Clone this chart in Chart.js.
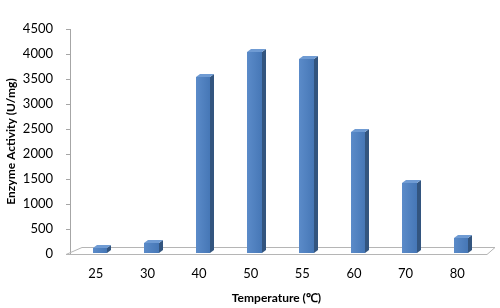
<!DOCTYPE html>
<html><head><meta charset="utf-8">
<script src="https://cdn.jsdelivr.net/npm/chart.js@4/dist/chart.umd.min.js"></script>
<style>html,body{margin:0;padding:0;background:#fff}#wrap{width:500px;height:308px}</style>
</head><body><div id="wrap"><canvas id="c"></canvas></div>
<script>
const categories = ['25','30','40','50','55','60','70','80'];
const activity = [120, 220, 3540, 4050, 3900, 2440, 1420, 330];
const yTicks = [0,500,1000,1500,2000,2500,3000,3500,4000,4500];
const xTitle = 'Temperature (℃)';
const yTitle = 'Enzyme Activity (U/mg)';

const DX = 4, DY = 3, SHIFT = 4;
const bar3d = {
  id: 'bar3d',
  beforeDatasetsDraw(chart) {
    const {ctx, chartArea: a} = chart;
    const yb = chart.scales.y.getPixelForValue(0);
    ctx.save();
    ctx.strokeStyle = '#b5b5b5';
    ctx.lineWidth = 1;
    ctx.beginPath();
    ctx.moveTo(a.left - 4, yb + 0.5);
    ctx.lineTo(a.right + 4, yb + 0.5);
    ctx.lineTo(a.right + 12, yb - 6.5);
    ctx.lineTo(a.left + 12, yb - 6.5);
    ctx.closePath();
    ctx.stroke();
    ctx.restore();
  },
  afterDatasetsDraw(chart) {
    const {ctx} = chart;
    const meta = chart.getDatasetMeta(0);
    meta.data.forEach(el => {
      const {x, y, base, width} = el.getProps(['x','y','base','width'], true);
      const l = Math.round(x - width/2 + SHIFT), r = Math.round(x + width/2 + SHIFT);
      const t = Math.round(y), b = Math.round(base) - 1;
      ctx.fillStyle = '#33557f';
      ctx.beginPath();
      ctx.moveTo(r, b); ctx.lineTo(r + DX, b - DY); ctx.lineTo(r + DX, t - DY); ctx.lineTo(r, t);
      ctx.closePath(); ctx.fill();
      ctx.fillStyle = '#6f9bd3';
      ctx.beginPath();
      ctx.moveTo(l, t); ctx.lineTo(l + DX, t - DY); ctx.lineTo(r + DX, t - DY); ctx.lineTo(r, t);
      ctx.closePath(); ctx.fill();
      const g = ctx.createLinearGradient(l, 0, r, 0);
      g.addColorStop(0, '#5b8bc9'); g.addColorStop(1, '#4677b6');
      ctx.fillStyle = g;
      ctx.fillRect(l, t, r - l, b - t);
    });
  }
};

new Chart(document.getElementById('c'), {
  type: 'bar',
  data: { labels: categories, datasets: [{ data: activity, backgroundColor: 'rgba(0,0,0,0)', borderWidth: 0, barPercentage: 0.56, categoryPercentage: 0.5 }] },
  options: {
    responsive: true, maintainAspectRatio: false, animation: false,
    devicePixelRatio: 1,
    layout: { padding: { top: 29, right: 17, left: 0, bottom: 0 } },
    plugins: { legend: { display: false }, tooltip: { enabled: false } },
    scales: {
      x: {
        afterFit: s => { s.height = 54; },
        grid: { display: false },
        border: { display: false },
        ticks: { padding: 4, color: '#000', font: { family: 'Lato', size: 13 } },
        title: { display: true, text: xTitle, color: '#000', padding: { top: 0, bottom: 3 }, font: { family: 'Lato', size: 12, weight: 'bold' } }
      },
      y: {
        min: 0, max: 4500,
        afterFit: s => { s.width = 70; },
        afterBuildTicks: s => { s.ticks = yTicks.map(v => ({ value: v })); },
        grid: { drawOnChartArea: false, tickLength: 4, color: '#a6a6a6' },
        border: { color: '#a6a6a6' },
        ticks: { padding: 13, color: '#000', font: { family: 'Lato', size: 13 }, callback: v => String(v) },
        title: { display: true, text: yTitle, color: '#000', padding: { top: 4, bottom: 0 }, font: { family: 'Lato', size: 12, weight: 'bold' } }
      }
    }
  },
  plugins: [bar3d]
});
</script></body></html>
